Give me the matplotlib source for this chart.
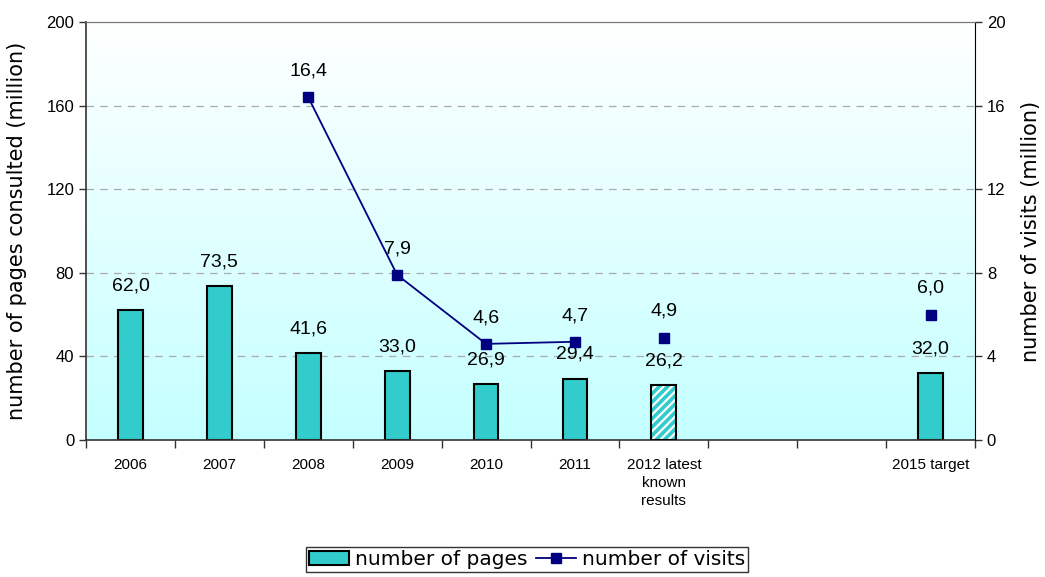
import numpy as np
import matplotlib
matplotlib.use("Agg")
import matplotlib.pyplot as plt
from matplotlib.colors import LinearSegmentedColormap
from matplotlib.lines import Line2D
from matplotlib.patches import Patch

categories = ["2006", "2007", "2008", "2009", "2010", "2011",
              "2012 latest\nknown\nresults", "", "", "2015 target"]
pages = [62.0, 73.5, 41.6, 33.0, 26.9, 29.4, 26.2, np.nan, np.nan, 32.0]
visits = [np.nan, np.nan, 16.4, 7.9, 4.6, 4.7, 4.9, np.nan, np.nan, 6.0]
# which visit points are joined by the line
visits_joined = [False, False, True, True, True, True, False, False, False, False]
hatched = [False] * 6 + [True] + [False] * 3

BAR = "#33cccc"
NAVY = "#000080"

def fmt(v):
    return f"{v:.1f}".replace(".", ",")

plt.rcParams["hatch.linewidth"] = 1.6

fig = plt.figure(figsize=(10.45, 5.77), dpi=100)
ax = fig.add_axes([86 / 1045, 1 - 440 / 577, (975 - 86) / 1045, (440 - 22) / 577])
ax2 = ax.twinx()

x = np.arange(len(categories))
ax.set_xlim(-0.5, len(categories) - 0.5)
ax.set_ylim(0, 200)
ax2.set_ylim(0, 20)

# background gradient
cmap = LinearSegmentedColormap.from_list("bg", ["#c4ffff", "#ffffff"])
ax.imshow(np.linspace(0, 1, 256).reshape(-1, 1), cmap=cmap, aspect="auto",
          extent=[-0.5, len(categories) - 0.5, 0, 200], origin="lower", zorder=0)

for yv in [40, 80, 120, 160]:
    ax.axhline(yv, color="#aaaaaa", lw=0.9, ls=(0, (6, 5)), zorder=1)

for i, (v, h) in enumerate(zip(pages, hatched)):
    if np.isnan(v):
        continue
    if h:
        ax.bar(i, v, width=0.28, facecolor=BAR, edgecolor="white", lw=0,
               hatch="////", zorder=2)
        ax.bar(i, v, width=0.28, fill=False, edgecolor="black", lw=1.5, zorder=3)
    else:
        ax.bar(i, v, width=0.28, color=BAR, edgecolor="black", lw=1.5, zorder=2)
    ax.text(i, v + 7.5, fmt(v), ha="center", va="bottom", fontsize=14,
            family="Liberation Sans", zorder=4)

jx = [i for i in x if visits_joined[i]]
jy = [visits[i] for i in jx]
ax2.plot(jx, jy, color=NAVY, lw=1.3, zorder=3)
ax2.plot(x, visits, ls="none", marker="s", ms=7, color=NAVY, zorder=4)
for i, v in enumerate(visits):
    if not np.isnan(v):
        ax2.text(i, v + 0.85, fmt(v), ha="center", va="bottom", fontsize=14,
                 family="Liberation Sans")

ax.set_yticks([0, 40, 80, 120, 160, 200])
ax2.set_yticks([0, 4, 8, 12, 16, 20])
for a in (ax, ax2):
    a.tick_params(axis="y", labelsize=12, length=5, width=1, color="#333333")
    for lab in a.get_yticklabels():
        lab.set_family("Liberation Sans")

ax.set_xticks(x)
ax.set_xticklabels(categories, fontsize=11, family="Liberation Sans", va="top",
                   linespacing=1.35)
ax.tick_params(axis="x", length=0, pad=13)
ax.set_xticks(np.arange(-0.5, len(categories), 1), minor=True)
ax.tick_params(axis="x", which="minor", length=6, width=1, color="#333333")

for s in ["left", "bottom"]:
    ax.spines[s].set_color("#333333")
    ax.spines[s].set_linewidth(1.2)
ax.spines["top"].set_color("#777777")
ax2.spines["top"].set_color("#777777")
ax2.spines["right"].set_color("black")
ax2.spines["left"].set_visible(False)
ax2.spines["bottom"].set_visible(False)
ax.spines["right"].set_visible(False)

ax.set_ylabel("number of pages consulted (million)", fontsize=15, labelpad=14)
ax2.set_ylabel("number of visits (million)", fontsize=15, labelpad=11)

handles = [Patch(facecolor=BAR, edgecolor="black", lw=1.5),
           Line2D([], [], color=NAVY, marker="s", ms=7, lw=1.3)]
leg = fig.legend(handles, ["number of pages", "number of visits"], loc="upper center",
                 bbox_to_anchor=(527 / 1045, 1 - 547 / 577), ncol=2, fontsize=14.5,
                 frameon=True, fancybox=False, borderpad=0.15, columnspacing=0.4,
                 handletextpad=0.3, handlelength=2.0, borderaxespad=0)
leg.get_frame().set_edgecolor("black")
leg.get_frame().set_linewidth(1.0)

fig.savefig("out.png", dpi=100)
